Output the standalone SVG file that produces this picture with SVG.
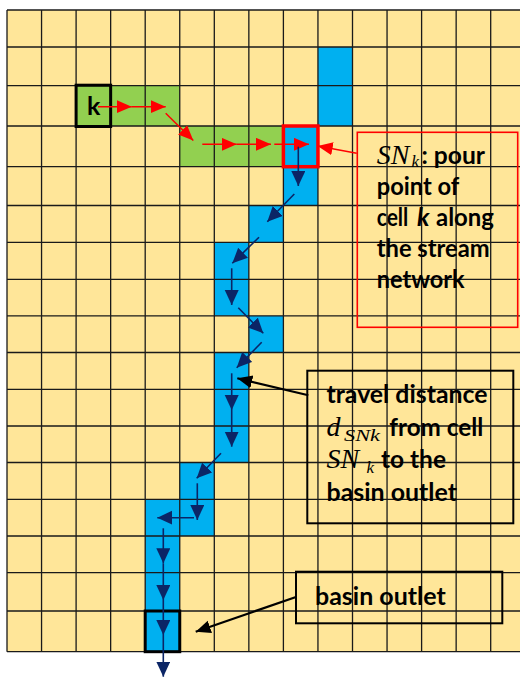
<svg xmlns="http://www.w3.org/2000/svg" width="520" height="679" viewBox="0 0 520 679">
<style>
.grid{stroke:#1a1a1a;stroke-width:1.3;fill:none}
.green{fill:#92D050}
.blue{fill:#00B0F0}
.ra{stroke:#FF0000;stroke-width:1.5;fill:none;marker-end:url(#mr)}
.na{stroke:#0B2566;stroke-width:1.6;fill:none;marker-end:url(#mn)}
.ba{stroke:#000;stroke-width:2.2;fill:none;marker-end:url(#mb)}
.t{font-family:Lato,'Open Sans',sans-serif;font-weight:bold;font-size:25px;fill:#000}
.m{font-family:'Liberation Serif','DejaVu Serif',serif;font-style:italic;font-size:28px;fill:#000}
.ms{font-size:17px}
</style>
<defs>
<marker id="mr" markerUnits="userSpaceOnUse" markerWidth="16" markerHeight="14" refX="15" refY="6.5" orient="auto"><path d="M0,0 L15,6.5 L0,13 z" fill="#FF0000"/></marker>
<marker id="mn" markerUnits="userSpaceOnUse" markerWidth="16" markerHeight="15" refX="15" refY="7" orient="auto"><path d="M0,0 L15,7 L0,14 z" fill="#0B2566"/></marker>
<marker id="mb" markerUnits="userSpaceOnUse" markerWidth="16" markerHeight="14" refX="15" refY="6.5" orient="auto"><path d="M0,0 L15,6.5 L0,13 z" fill="#000"/></marker>
</defs>
<rect x="0" y="0" width="520" height="679" fill="#fff"/>
<g id="grid">
<rect x="7" y="10" width="513" height="641.7" fill="#FFE699"/>
<rect class="green" x="76.1" y="85.7" width="103.65" height="40.3"/>
<rect class="green" x="179.75" y="126" width="103.65" height="40.7"/>
<rect class="blue" x="317.95" y="47" width="34.55" height="79"/>
<rect class="blue" x="283.4" y="126" width="34.55" height="79.5"/>
<rect class="blue" x="248.85" y="205.5" width="34.55" height="36.8"/>
<rect class="blue" x="214.3" y="242.3" width="34.55" height="73.5"/>
<rect class="blue" x="248.85" y="315.8" width="34.55" height="36.7"/>
<rect class="blue" x="214.3" y="352.5" width="34.55" height="110"/>
<rect class="blue" x="179.75" y="462.5" width="34.55" height="73.5"/>
<rect class="blue" x="145.2" y="499.3" width="34.55" height="152.4"/>
<path class="grid" d="M7,10V651.7M41.55,10V651.7M76.1,10V651.7M110.65,10V651.7M145.2,10V651.7M179.75,10V651.7M214.3,10V651.7M248.85,10V651.7M283.4,10V651.7M317.95,10V651.7M352.5,10V651.7M387.05,10V651.7M421.6,10V651.7M456.15,10V651.7M490.7,10V651.7
M7,10H520M7,47H520M7,85.7H520M7,126H520M7,166.7H520M7,205.5H520M7,242.3H520M7,279.3H520M7,315.8H520M7,352.5H520M7,389.3H520M7,426H520M7,462.5H520M7,499.3H520M7,536H520M7,572.7H520M7,611H520M7,651.7H520"/>
</g>
<g id="cell-k">
<rect x="76.1" y="85.2" width="34.55" height="41.3" fill="none" stroke="#000" stroke-width="3"/>
<text class="t" x="93.6" y="115" text-anchor="middle">k</text>
</g>
<g id="cell-snk">
<rect x="283.4" y="126" width="34.55" height="40.7" fill="none" stroke="#FF0000" stroke-width="3.5"/>
</g>
<g id="cell-outlet">
<rect x="145.2" y="611" width="34.55" height="40.7" fill="none" stroke="#000" stroke-width="3"/>
</g>
<g id="connectors">
<line class="ra" x1="98" y1="106.7" x2="131.7" y2="106.7"/>
<line class="ra" x1="131.7" y1="106.7" x2="165.7" y2="106.7"/>
<line class="ra" x1="165.7" y1="113.3" x2="193.3" y2="140.5"/>
<line class="ra" x1="202.3" y1="144.3" x2="236.7" y2="144.3"/>
<line class="ra" x1="236.7" y1="144.3" x2="271" y2="144.3"/>
<line class="ra" x1="274.3" y1="144.3" x2="309" y2="144.3"/>
<line class="ra" x1="356.7" y1="153.3" x2="317.7" y2="146"/>
<line class="na" x1="298.3" y1="146.7" x2="298.3" y2="186"/>
<line class="na" x1="294.3" y1="194" x2="267.3" y2="221.7"/>
<line class="na" x1="259" y1="237.3" x2="232.3" y2="263.3"/>
<line class="na" x1="231.7" y1="268.3" x2="231.7" y2="305"/>
<line class="na" x1="238.3" y1="307.7" x2="263.3" y2="333.3"/>
<line class="na" x1="261.7" y1="342.3" x2="236.7" y2="367.7"/>
<line class="na" x1="231.7" y1="373.3" x2="231.7" y2="410"/>
<line class="na" x1="231.7" y1="410" x2="231.7" y2="446.7"/>
<line class="na" x1="221" y1="453.3" x2="196.7" y2="478.3"/>
<line class="na" x1="197.3" y1="483.3" x2="197.3" y2="520"/>
<line class="na" x1="194" y1="517.7" x2="157.3" y2="517.7"/>
<line class="na" x1="163.3" y1="528.3" x2="163.3" y2="563.3"/>
<line class="na" x1="163.3" y1="563.3" x2="163.3" y2="600"/>
<line class="na" x1="163.3" y1="600" x2="163.3" y2="635"/>
<line class="na" x1="163.3" y1="635" x2="163.3" y2="676.7"/>
<line class="ba" x1="308.3" y1="395.3" x2="237.3" y2="378.3"/>
<line class="ba" x1="296.7" y1="596.7" x2="195.7" y2="631.7"/>
</g>
<g id="label-snk">
<rect x="357.3" y="132.3" width="160.4" height="195" fill="none" stroke="#FF0000" stroke-width="1.6"/>
<text class="m" x="376.7" y="164">SN<tspan class="ms" x="411.5" dy="3">k</tspan></text>
<text class="t" x="421.5" y="164" textLength="63.5" lengthAdjust="spacingAndGlyphs">: pour</text>
<text class="t" x="376.7" y="195" textLength="82.6" lengthAdjust="spacingAndGlyphs">point of</text>
<text class="t" x="376.7" y="226" textLength="31.6" lengthAdjust="spacingAndGlyphs">cell</text>
<text class="t" x="417" y="226" font-style="italic">k</text>
<text class="t" x="436" y="226" textLength="58" lengthAdjust="spacingAndGlyphs">along</text>
<text class="t" x="376.7" y="257" textLength="113" lengthAdjust="spacingAndGlyphs">the stream</text>
<text class="t" x="376.7" y="288" textLength="88" lengthAdjust="spacingAndGlyphs">network</text>
</g>
<g id="label-distance">
<rect x="307.3" y="370.7" width="206" height="152.6" fill="none" stroke="#000" stroke-width="2"/>
<text class="t" x="326.5" y="403" textLength="161" lengthAdjust="spacingAndGlyphs">travel distance</text>
<text class="m" x="326.5" y="435.5">d<tspan class="ms" x="344" dy="5.5" font-size="20" textLength="36" lengthAdjust="spacingAndGlyphs">SNk</tspan></text>
<text class="t" x="389.3" y="435.5" textLength="94" lengthAdjust="spacingAndGlyphs">from cell</text>
<text class="m" x="326.5" y="468" font-size="31">SN<tspan class="ms" x="366.5" dy="4.5">k</tspan></text>
<text class="t" x="381" y="468" textLength="65" lengthAdjust="spacingAndGlyphs">to the</text>
<text class="t" x="326.5" y="501" textLength="130.5" lengthAdjust="spacingAndGlyphs">basin outlet</text>
</g>
<g id="label-outlet">
<rect x="296" y="571.7" width="206.3" height="51.6" fill="none" stroke="#000" stroke-width="2"/>
<text class="t" x="315" y="605" textLength="130.7" lengthAdjust="spacingAndGlyphs">basin outlet</text>
</g>
</svg>
